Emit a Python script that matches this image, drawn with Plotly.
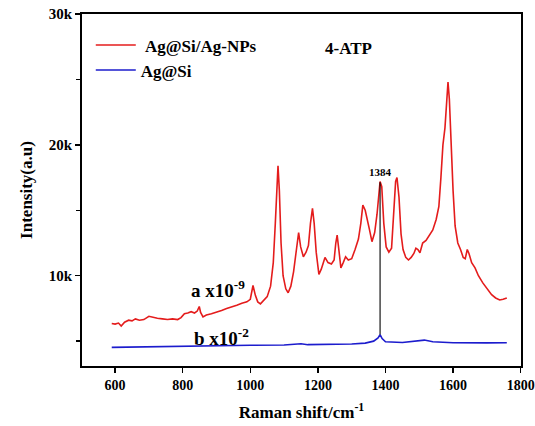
import plotly.graph_objects as go

# Red spectrum: Ag@Si/Ag-NPs (Raman shift, intensity)
red_x = [590, 600, 610, 618, 628, 640, 650, 660, 672, 685, 700, 712, 725, 740, 755, 770, 785, 795,
         805, 815, 825, 835, 843, 849, 853, 860, 870, 885, 900, 915, 930, 945, 960, 975, 990, 1000,
         1008, 1015, 1022, 1030, 1040, 1050, 1060, 1068, 1074, 1078, 1082, 1086, 1091, 1097, 1105,
         1112, 1120, 1128, 1136, 1143, 1149, 1157, 1165, 1172, 1178, 1184, 1189, 1195, 1203, 1210,
         1221, 1230, 1240, 1248, 1253, 1257, 1262, 1268, 1275, 1282, 1290, 1300, 1310, 1320, 1327,
         1333, 1340, 1346, 1352, 1360, 1368, 1375, 1380, 1384, 1389, 1395, 1402, 1410, 1418, 1425,
         1430, 1434, 1440, 1446, 1452, 1460, 1468, 1476, 1484, 1490, 1496, 1502, 1510, 1520, 1530,
         1540, 1550, 1558, 1564, 1570, 1576, 1582, 1585, 1589, 1594, 1600, 1606, 1614, 1622, 1630,
         1636, 1642, 1647, 1655, 1665, 1675, 1688, 1700, 1714, 1726, 1738, 1748, 1759]
red_y = [6350, 6300, 6380, 6150, 6450, 6600, 6550, 6700, 6600, 6650, 6900, 6800, 6750, 6700, 6650, 6700, 6650, 6800,
         7100, 7150, 7250, 7150, 7300, 7650, 7200, 6850, 7000, 7100, 7200, 7350, 7500, 7600, 7750, 7900, 8000, 8200,
         9250, 8500, 8000, 7850, 8100, 8400, 9200, 11000, 14000, 17000, 18400, 16500, 12500, 10000, 9000,
         8700, 9200, 10300, 11800, 13300, 12200, 11450, 11800, 12300, 14000, 15150, 14000, 11800, 10100, 10500,
         11400, 11000, 10900, 11200, 12500, 13100, 12000, 10600, 11000, 11450, 11200, 11300, 12000, 12800, 14000,
         15400, 15000, 14400, 13600, 12600, 13300, 14700, 16000, 17200, 16800, 14000, 12200, 11800, 12100, 15000,
         17200, 17500, 16000, 13200, 12000, 11400, 11200, 11400, 11700, 12100, 12000, 11750, 12500, 12700, 13100,
         13500, 14300, 15300, 17500, 20000, 21300, 24000, 24800, 23500, 20000, 16500, 13800, 12500, 12000, 11400,
         11300, 12000, 11700, 11000, 10600, 10000, 9450, 9000, 8550, 8300, 8150, 8200, 8300]

# Blue spectrum: Ag@Si
blue_x = [590, 650, 700, 800, 900, 1000, 1100, 1150, 1170, 1250, 1300, 1340, 1365, 1378, 1384,
          1390, 1400, 1450, 1490, 1515, 1540, 1600, 1700, 1759]
blue_y = [4520, 4550, 4560, 4600, 4650, 4680, 4700, 4800, 4730, 4750, 4780, 4850, 5000, 5250, 5500,
          5200, 4950, 4900, 4980, 5080, 4950, 4880, 4870, 4880]

# Marker line at 1384
mark_x = [1384, 1384]
mark_y = [5500, 17150]

# Axis ticks and ranges
x_ticks = [600, 800, 1000, 1200, 1400, 1600, 1800]
x_labels = ["600", "800", "1000", "1200", "1400", "1600", "1800"]
y_ticks = [10000, 20000, 30000]
y_labels = ["10k", "20k", "30k"]
X_RANGE = [502, 1801]
Y_RANGE = [3100, 30000]

FONT = "Liberation Serif"
RED = "#e41c1c"
BLUE = "#1c1ccd"
INK = "#000000"

fig = go.Figure()
fig.add_trace(go.Scatter(x=red_x, y=red_y, mode="lines", name="<b>\u00a0Ag@Si/Ag-NPs</b>",
                         line=dict(color=RED, width=1.6)))
fig.add_trace(go.Scatter(x=blue_x, y=blue_y, mode="lines", name="<b>Ag@Si</b>",
                         line=dict(color=BLUE, width=1.6)))
fig.add_trace(go.Scatter(x=mark_x, y=mark_y, mode="lines", showlegend=False, hoverinfo="skip",
                         line=dict(color=INK, width=1.1)))

fig.add_annotation(x=1384, y=17950, text="<b>1384</b>", showarrow=False,
                   font=dict(family=FONT, size=11, color=INK))
fig.add_annotation(x=1292, y=27400, text="<b>4-ATP</b>", showarrow=False,
                   font=dict(family=FONT, size=17, color=INK))
fig.add_annotation(x=819, y=8950, text="<b>a\u00a0x10<sup>-9</sup></b>", showarrow=False, xanchor="left",
                   font=dict(family=FONT, size=19, color=INK))
fig.add_annotation(x=828, y=5300, text="<b>b\u00a0x10<sup>-2</sup></b>", showarrow=False, xanchor="left",
                   font=dict(family=FONT, size=19, color=INK))

fig.update_layout(
    width=535, height=426,
    margin=dict(l=82, r=14, t=14, b=60, autoexpand=False),
    paper_bgcolor="#ffffff", plot_bgcolor="#ffffff",
    font=dict(family=FONT, color=INK),
    showlegend=True,
    legend=dict(x=0.02, y=0.962, xanchor="left", yanchor="top",
                font=dict(family=FONT, size=17, color=INK),
                bgcolor="rgba(0,0,0,0)", tracegroupgap=0, itemwidth=40),
)
fig.update_xaxes(
    range=X_RANGE, tickmode="array", tickvals=x_ticks,
    ticktext=["<b>%s</b>" % t for t in x_labels],
    showgrid=False, zeroline=False, automargin=False, ticklabeloverflow="allow",
    showline=True, linecolor=INK, linewidth=2, mirror=True,
    ticks="outside", ticklen=5, tickwidth=1.5, tickcolor=INK,
    tickfont=dict(family=FONT, size=14, color=INK),
    title=dict(text="<b>Raman shift/cm<sup>-1</sup></b>", font=dict(family=FONT, size=17, color=INK),
               standoff=14),
)
fig.update_yaxes(
    range=Y_RANGE, tickmode="array", tickvals=y_ticks,
    ticktext=["<b>%s</b>" % t for t in y_labels],
    showgrid=False, zeroline=False, automargin=False,
    showline=True, linecolor=INK, linewidth=2, mirror=True,
    ticks="outside", ticklen=5, tickwidth=1.5, tickcolor=INK,
    minor=dict(ticks="outside", ticklen=4, tickwidth=1.5, tickcolor=INK, dtick=5000, tick0=0),
    tickfont=dict(family=FONT, size=15, color=INK),
    title=dict(text="<b>Intensity(a.u)</b>", font=dict(family=FONT, size=17, color=INK), standoff=12),
)

fig.write_html("out.html", config={"staticPlot": True, "displayModeBar": False})
